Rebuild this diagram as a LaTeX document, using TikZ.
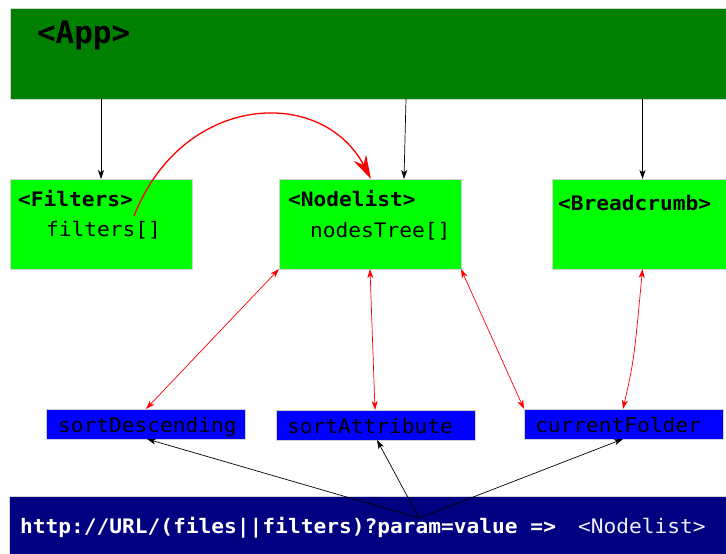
\documentclass[tikz,border=0pt]{standalone}
\usepackage{fontspec}
\newfontfamily\dmono[FakeStretch=1.06]{DejaVu Sans Mono}
\newfontfamily\dmonoapp{DejaVu Sans Mono}
\usetikzlibrary{arrows.meta}
\definecolor{appgreen}{HTML}{008000}
\definecolor{lime}{HTML}{00FF00}
\definecolor{pureblue}{HTML}{0000FF}
\definecolor{navyblue}{HTML}{000080}
\definecolor{softwhite}{HTML}{EEEEFF}
\begin{document}
\begin{tikzpicture}[x=1pt,y=-1pt,
  box/.style={draw=gray!35, line width=0.7pt, inner sep=0pt, outer sep=0pt, anchor=north west},
  txt/.style={anchor=base west, inner sep=0pt, outer sep=0pt, font=\dmono\fontsize{20}{24}\selectfont},
  btxt/.style={txt, font=\dmono\bfseries\fontsize{20}{24}\selectfont},
  conn/.style={line width=0.7pt, -{Stealth[length=9pt,width=6pt,inset=2.5pt]}},
  redtwo/.style={red, line width=0.7pt, {Stealth[length=9pt,width=6pt,inset=2.5pt]}-{Stealth[length=9pt,width=6pt,inset=2.5pt]}}
]
\useasboundingbox (0,0) rectangle (726,554);
% boxes
\node[box, fill=appgreen, minimum width=731pt, minimum height=91pt] (app) at (10,8) {};
\node[box, fill=lime, minimum width=182pt, minimum height=90pt] (filters) at (10,179) {};
\node[box, fill=lime, minimum width=182pt, minimum height=90pt] (nodelist) at (279,179) {};
\node[box, fill=lime, minimum width=181pt, minimum height=90pt] (breadcrumb) at (552,179) {};
\node[box, fill=pureblue, minimum width=199pt, minimum height=30pt] (sortdesc) at (46,409) {};
\node[box, fill=pureblue, minimum width=199pt, minimum height=30pt] (sortattr) at (276,410) {};
\node[box, fill=pureblue, minimum width=199pt, minimum height=30pt] (curfolder) at (524,409) {};
\node[box, fill=navyblue, minimum width=731pt, minimum height=70pt] (url) at (9,496) {};
% texts
\node[txt, font=\dmonoapp\bfseries\fontsize{31}{36}\selectfont] (tapp) at (37,43) {<App>};
\node[btxt] (tfil) at (18,206) {<Filters>};
\node[txt] (tfil2) at (46,236) {filters[]};
\node[btxt] (tnl) at (288,206) {<Nodelist>};
\node[txt] (tnl2) at (310,237) {nodesTree[]};
\node[btxt] (tbc) at (558,210) {<Breadcrumb>};
\node[txt] (tsd) at (58,432) {sortDescending};
\node[txt] (tsa) at (287,433) {sortAttribute};
\node[txt] (tcf) at (535,432) {currentFolder};
\node[btxt, text=white] (turl) at (20,533) {http://URL/(files||filters)?param=value =>};
\node[txt, text=softwhite] (turl2) at (578,533) {<Nodelist>};
% black connectors from App
\draw[conn] (filters.north |- app.south) -- (filters.north);
\draw[conn] (app.south -| 406,0) -- (nodelist.north -| 404,0);
\draw[conn] (breadcrumb.north |- app.south) -- (breadcrumb.north);
% red curve
\coordinate (fstart) at (134,216);
\draw[red, line width=1.3pt, -{Stealth[length=24pt,width=14pt,inset=8pt]}] (fstart) .. controls (183,92) and (322,86) .. (nodelist.north -| 371,0);
% red double arrows
\draw[redtwo] (nodelist.south west) -- (sortdesc.north -| 146,0);
\draw[redtwo] (nodelist.south) -- (sortattr.north -| 375,0);
\draw[redtwo] (nodelist.south east) -- (curfolder.north west);
\draw[redtwo] (breadcrumb.south) .. controls (634,360) .. (curfolder.north -| 623,0);
% black connectors from URL
\coordinate (hub) at (419,518);
\draw[conn] (hub) -- (sortdesc.south -| 147,0);
\draw[conn] (hub) -- (sortattr.south -| 377,0);
\draw[conn] (hub) -- (curfolder.south -| 623,0);
\end{tikzpicture}
\end{document}
